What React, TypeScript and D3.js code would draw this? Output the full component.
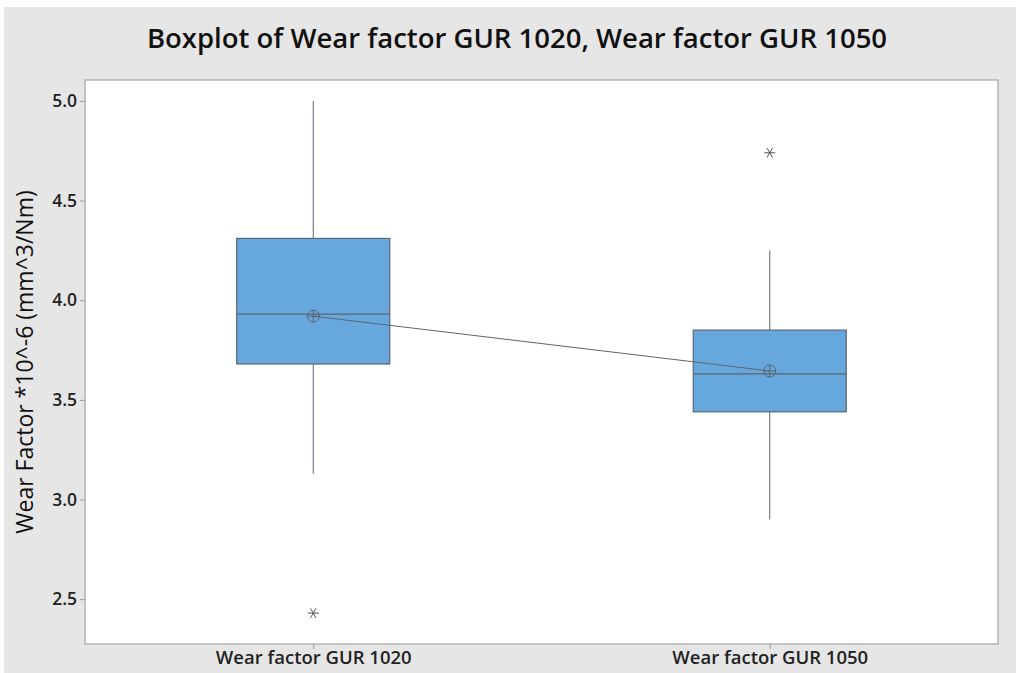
import React, { useEffect, useRef } from 'react';
import * as d3 from 'd3';

const categories = ['Wear factor GUR 1020', 'Wear factor GUR 1050'];
const q1 = [3.68, 3.44];
const median = [3.93, 3.63];
const q3 = [4.31, 3.85];
const whiskerLow = [3.13, 2.9];
const whiskerHigh = [5.0, 4.25];
const means = [3.92, 3.645];
const outliers = [[2.43], [4.74]];
const yTicks = [2.5, 3.0, 3.5, 4.0, 4.5, 5.0];

const App = () => {
    const svgRef = useRef(null);

    useEffect(() => {
        const svg = d3.select(svgRef.current);
        svg.selectAll('*').remove();
        const width = 1016;
        const height = 673;
        const left = 85, right = 998, top = 80, bottom = 644;
        const font = "'Open Sans', 'Noto Sans', sans-serif";
        const stroke = '#5b6470';

        svg.append('rect').attr('width', width).attr('height', height).attr('fill', 'white');
        svg.append('rect').attr('x', 4).attr('y', 7).attr('width', width - 4).attr('height', height - 7).attr('fill', '#e6e6e6');
        svg.append('rect')
            .attr('x', left).attr('y', top)
            .attr('width', right - left).attr('height', bottom - top)
            .attr('fill', 'white').attr('stroke', '#b4b4b4').attr('stroke-width', 1.5);

        const x = d3.scalePoint().domain(categories).range([left, right]).padding(0.5);
        const y = d3.scaleLinear().domain([2.275, 5.105]).range([bottom, top]);
        const boxW = 153;

        // title
        svg.append('text')
            .attr('x', 517).attr('y', 48)
            .attr('text-anchor', 'middle')
            .attr('font-family', font).attr('font-weight', 600).attr('font-size', 27.5)
            .attr('fill', '#111')
            .text('Boxplot of Wear factor GUR 1020, Wear factor GUR 1050');

        // y axis
        const yAxis = svg.append('g').attr('transform', `translate(${left},0)`)
            .call(d3.axisLeft(y).tickValues(yTicks).tickFormat(d3.format('.1f')).tickSize(5).tickSizeOuter(0));
        yAxis.select('.domain').remove();
        yAxis.selectAll('line').attr('stroke', '#9a9a9a');
        yAxis.selectAll('text')
            .attr('font-family', font).attr('font-size', 17.5).attr('font-weight', 600)
            .attr('fill', '#222').attr('x', -8);

        svg.append('text')
            .attr('transform', `translate(33,${(top + bottom) / 2}) rotate(-90)`)
            .attr('text-anchor', 'middle')
            .attr('font-family', font).attr('font-size', 23)
            .attr('fill', '#111')
            .text('Wear Factor *10^-6 (mm^3/Nm)');

        // x axis
        const xAxis = svg.append('g').attr('transform', `translate(0,${bottom})`)
            .call(d3.axisBottom(x).tickSize(5).tickSizeOuter(0));
        xAxis.select('.domain').remove();
        xAxis.selectAll('line').attr('stroke', '#9a9a9a');
        xAxis.selectAll('text')
            .attr('font-family', font).attr('font-size', 18.5).attr('font-weight', 600)
            .attr('fill', '#222').attr('y', 7);

        const g = svg.append('g');
        categories.forEach((c, i) => {
            const cx = x(c);
            g.append('line').attr('x1', cx).attr('x2', cx)
                .attr('y1', y(whiskerHigh[i])).attr('y2', y(q3[i]))
                .attr('stroke', stroke).attr('stroke-width', 1);
            g.append('line').attr('x1', cx).attr('x2', cx)
                .attr('y1', y(q1[i])).attr('y2', y(whiskerLow[i]))
                .attr('stroke', stroke).attr('stroke-width', 1);
            g.append('rect')
                .attr('x', cx - boxW / 2).attr('y', y(q3[i]))
                .attr('width', boxW).attr('height', y(q1[i]) - y(q3[i]))
                .attr('fill', '#66a8dd').attr('stroke', stroke).attr('stroke-width', 1.2);
            g.append('line')
                .attr('x1', cx - boxW / 2).attr('x2', cx + boxW / 2)
                .attr('y1', y(median[i])).attr('y2', y(median[i]))
                .attr('stroke', stroke).attr('stroke-width', 1.2);
            outliers[i].forEach((o) => {
                const oy = y(o);
                const r = 5.5;
                [0, 60, 120].forEach((a) => {
                    const rad = (a * Math.PI) / 180;
                    g.append('line')
                        .attr('x1', cx - r * Math.cos(rad)).attr('x2', cx + r * Math.cos(rad))
                        .attr('y1', oy - r * Math.sin(rad)).attr('y2', oy + r * Math.sin(rad))
                        .attr('stroke', '#555').attr('stroke-width', 1);
                });
            });
        });

        // mean connect line
        const line = d3.line()
            .x((d) => x(d[0]))
            .y((d) => y(d[1]));
        g.append('path')
            .attr('d', line(categories.map((c, i) => [c, means[i]])))
            .attr('fill', 'none').attr('stroke', stroke).attr('stroke-width', 1);

        categories.forEach((c, i) => {
            const cx = x(c);
            const my = y(means[i]);
            g.append('circle').attr('cx', cx).attr('cy', my).attr('r', 6)
                .attr('fill', 'none').attr('stroke', stroke).attr('stroke-width', 1);
            g.append('line').attr('x1', cx - 6).attr('x2', cx + 6).attr('y1', my).attr('y2', my)
                .attr('stroke', stroke).attr('stroke-width', 1);
            g.append('line').attr('x1', cx).attr('x2', cx).attr('y1', my - 6).attr('y2', my + 6)
                .attr('stroke', stroke).attr('stroke-width', 1);
        });
    }, []);

    return (
        <svg ref={svgRef} width={1016} height={673} style={{ display: 'block', position: 'absolute', left: 0, top: 0 }}></svg>
    );
};

export default App;
